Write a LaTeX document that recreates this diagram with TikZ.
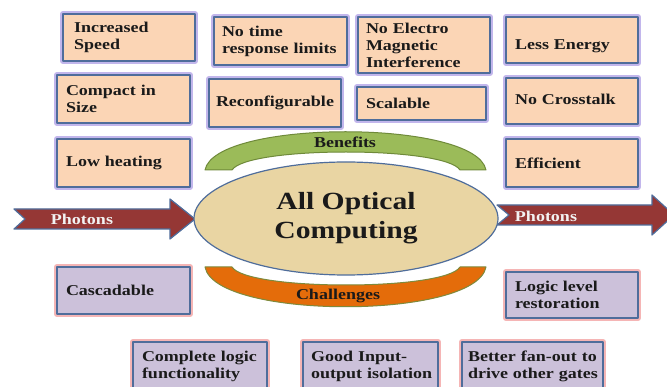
\documentclass[tikz,border=0pt]{standalone}
\usepackage{fontspec}
\setmainfont{Liberation Serif}[FakeStretch=1.2]
\usetikzlibrary{shapes.geometric}

\definecolor{peach}{HTML}{FBD5B5}
\definecolor{lilac}{HTML}{CCC1DA}
\definecolor{edge}{HTML}{4F6D9B}
\definecolor{glowblue}{HTML}{C2B6EC}
\definecolor{glowpink}{HTML}{F5B5B5}
\definecolor{leaf}{HTML}{9BBB59}
\definecolor{leafedge}{HTML}{6F8A3A}
\definecolor{pumpkin}{HTML}{E46C0A}
\definecolor{pumpkinedge}{HTML}{7E8A3C}
\definecolor{brick}{HTML}{953735}
\definecolor{wheat}{HTML}{E9D5A3}
\definecolor{ink}{HTML}{1A1A1A}

\begin{document}
\begin{tikzpicture}[x=1pt, y=-1pt, line join=round,
    box/.style = {draw=edge, line width=1.6pt, rectangle, align=left, inner sep=0pt, text=ink, font=\bfseries\fontsize{15}{17}\selectfont},
    plus/.style = {box, fill=peach, preaction={draw=glowblue, line width=6pt}},
    minus/.style = {box, fill=lilac, preaction={draw=glowpink, line width=6pt}},
    photon/.style = {fill=brick, draw=edge, line width=1.2pt},
    tag/.style = {font=\bfseries\fontsize{15}{17}\selectfont}]
        \useasboundingbox (0,0) rectangle (667,387);
        \fill[white] (0,0) rectangle (667,387);

        \node[plus, minimum width=132, minimum height=47, text width=110] (speed) at (129,37.5) {Increased\\Speed};
        \node[plus, minimum width=133, minimum height=48, text width=117] (notime) at (280.5,41) {No time\\response~limits};
        \node[plus, minimum width=132, minimum height=56, text width=116] (emi) at (424,45) {No Electro\\Magnetic\\Interference};
        \node[plus, minimum width=132, minimum height=46, text width=114, text height=19pt, text depth=0pt] (energy) at (572,40) {Less Energy};
        \node[plus, minimum width=133, minimum height=48, text width=115] (compact) at (123.5,99) {Compact in\\Size};
        \node[plus, minimum width=132, minimum height=48, text width=118] (reconf) at (275,103) {Reconfigurable};
        \node[plus, minimum width=129, minimum height=33, text width=111] (scal) at (421.5,103.5) {Scalable};
        \node[plus, minimum width=132, minimum height=46, text width=114, text height=10pt, text depth=2pt] (cross) at (572,101) {No Crosstalk};
        \node[plus, minimum width=133, minimum height=48, text width=115] (heat) at (123.5,163) {Low heating};
        \node[plus, minimum width=132, minimum height=48, text width=114] (effic) at (572,163) {Efficient};

        \node[minus, minimum width=133, minimum height=47, text width=115] (casc) at (123.5,290.5) {Cascadable};
        \node[minus, minimum width=132, minimum height=46, text width=114] (restore) at (572,295) {Logic level\\restoration};
        \node[minus, minimum width=134, minimum height=48, text width=116] (logic) at (200,366) {\mbox{Complete logic}\\functionality};
        \node[minus, minimum width=135, minimum height=48, text width=119] (isol) at (370.5,366) {Good Input-\\\mbox{output isolation}};
        \node[minus, minimum width=141, minimum height=48, text width=129] (fanout) at (532.5,366) {\mbox{Better fan-out to}\\\mbox{drive other gates}};

        \draw[fill=leaf, draw=leafedge, line width=1pt] (205,170) .. controls (215,119) and (476,119) .. (486,170) -- (460,170) .. controls (445,146) and (247,146) .. (232,170) -- cycle;
        \node[tag, text=ink] (ben) at (345,142) {Benefits};
        \draw[fill=pumpkin, draw=pumpkinedge, line width=1pt] (205,267) .. controls (215,320) and (476,320) .. (486,267) -- (460,267) .. controls (445,291) and (247,291) .. (232,267) -- cycle;
        \node[tag, text=ink] (chal) at (338,296) {Challenges};

        \draw[photon] (14,209) -- (170,209) -- (170,199) -- (195,219) -- (170,239) -- (170,229) -- (14,229) -- (25,219) -- cycle;
        \node[tag, text=white!95!black] (pin) at (82,219) {Photons};
        \draw[photon] (497,205) -- (652,205) -- (652,195) -- (674,215) -- (652,235) -- (652,225) -- (497,225) -- (509,215) -- cycle;
        \node[tag, text=white!95!black] (pout) at (546,216) {Photons};

        \node[ellipse, draw=edge, fill=wheat, line width=1.2pt, minimum width=304, minimum height=113, align=center, text=ink, font=\bfseries\fontsize{24.7}{29}\selectfont] (aoc) at (346,218.5) {All Optical\\Computing};
    \end{tikzpicture}
\end{document}
